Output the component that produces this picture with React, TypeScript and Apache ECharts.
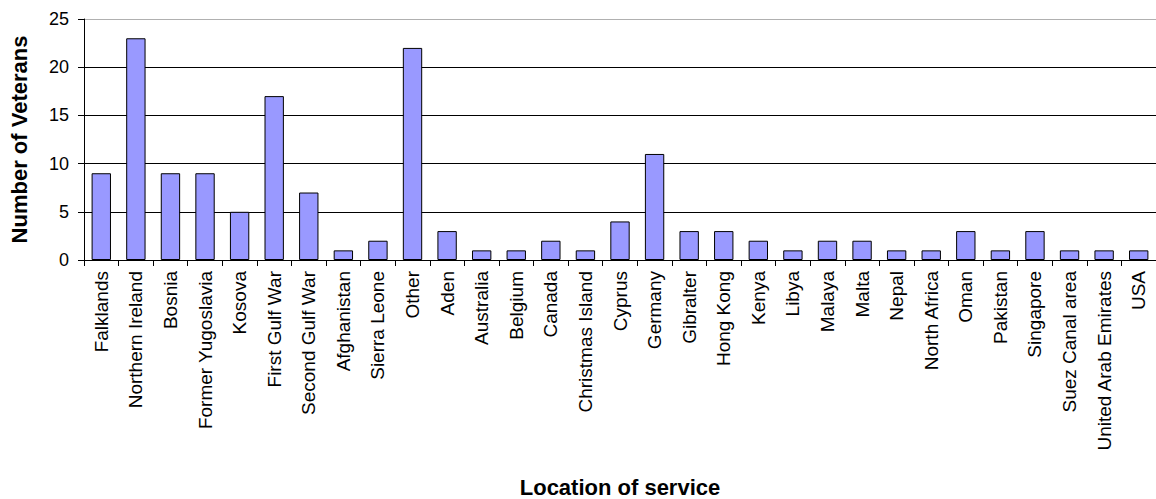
import React, { useEffect, useRef } from "react";
import * as echarts from "echarts";

const categories = [
  "Falklands", "Northern Ireland", "Bosnia", "Former Yugoslavia", "Kosova",
  "First Gulf War", "Second Gulf War", "Afghanistan", "Sierra Leone", "Other",
  "Aden", "Australia", "Belgium", "Canada", "Christmas Island", "Cyprus",
  "Germany", "Gibralter", "Hong Kong", "Kenya", "Libya", "Malaya", "Malta",
  "Nepal", "North Africa", "Oman", "Pakistan", "Singapore", "Suez Canal area",
  "United Arab Emirates", "USA",
];
const veterans = [
  9, 23, 9, 9, 5, 17, 7, 1, 2, 22,
  3, 1, 1, 2, 1, 4, 11, 3, 3, 2, 1, 2, 2, 1, 1, 3, 1, 3, 1, 1, 1,
];
const yTicks = { min: 0, max: 25, interval: 5 };

export default function App() {
  const ref = useRef<HTMLDivElement>(null);
  useEffect(() => {
    if (!ref.current) return;
    const chart = echarts.init(ref.current, null, { renderer: "svg" });
    const font = "Arial, 'Liberation Sans', sans-serif";
    chart.setOption({
      animation: false,
      backgroundColor: "#fff",
      grid: { left: 83, top: 19, width: 1077, height: 242, containLabel: false },
      xAxis: {
        type: "category",
        data: categories,
        name: "Location of service",
        nameLocation: "middle",
        nameGap: 216,
        nameTextStyle: { fontFamily: font, fontSize: 22, fontWeight: "bold", color: "#000" },
        axisLine: { lineStyle: { color: "#000", width: 1 } },
        axisTick: { show: true, alignWithLabel: false, length: 6, lineStyle: { color: "#000" } },
        axisLabel: {
          interval: 0,
          rotate: 90,
          margin: 11,
          fontFamily: font,
          fontSize: 19,
          color: "#000",
        },
        splitLine: { show: false },
      },
      yAxis: {
        type: "value",
        min: yTicks.min,
        max: yTicks.max,
        interval: yTicks.interval,
        name: "Number of Veterans",
        nameLocation: "middle",
        nameGap: 54,
        nameTextStyle: { fontFamily: font, fontSize: 22, fontWeight: "bold", color: "#000" },
        axisLine: { show: true, lineStyle: { color: "#000", width: 1 } },
        axisTick: { show: true, length: 6, lineStyle: { color: "#000" } },
        axisLabel: { fontFamily: font, fontSize: 18, color: "#000", margin: 15 },
        splitLine: {
          show: true,
          lineStyle: { color: ["#000", "#000", "#000", "#000", "#000", "#b0b0b0"], width: 1 },
        },
      },
      series: [
        {
          type: "bar",
          data: veterans,
          barCategoryGap: "44%",
          itemStyle: { color: "#9999FF", borderColor: "#000", borderWidth: 1 },
        },
      ],
    });
    return () => chart.dispose();
  }, []);
  return (
    <div
      ref={ref}
      style={{ position: "absolute", left: 0, top: 0, width: 1156, height: 499 }}
    />
  );
}
